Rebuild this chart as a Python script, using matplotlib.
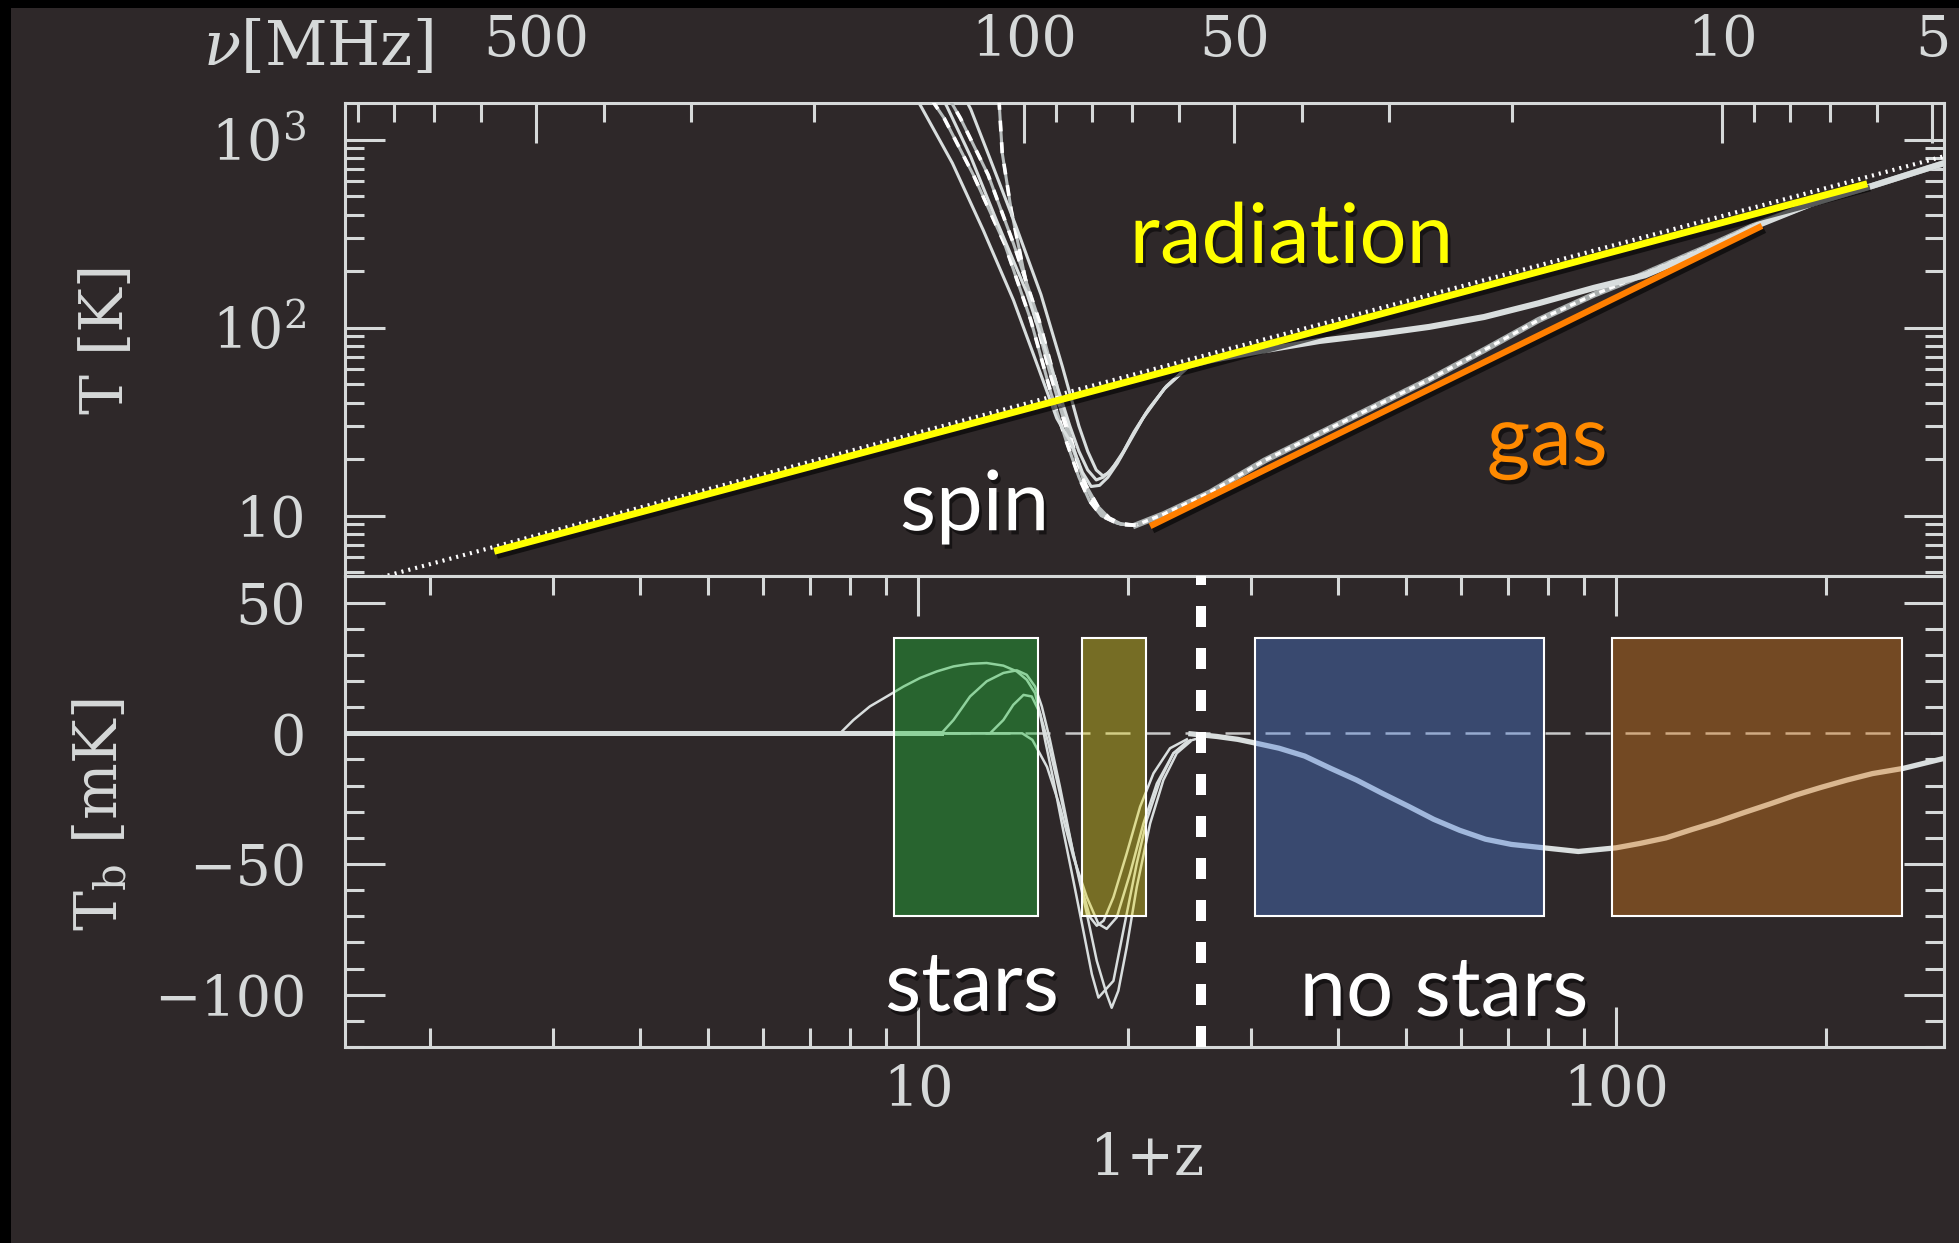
import numpy as np
import matplotlib
matplotlib.use('Agg')
from matplotlib import pyplot as plt
from matplotlib import rc
from matplotlib.patches import Rectangle
from matplotlib.ticker import FixedLocator, FixedFormatter, NullFormatter, NullLocator
import matplotlib.patheffects as pe

rc('font', family='DejaVu Serif')
rc('mathtext', fontset='dejavuserif')

BG = '#2e2829'
FG = '#d6d9d9'
LINE = '#d9dede'

# ---- top panel: temperatures (1+z, T[K]) ----
cmb_z = [1.7, 300]
cmb_T = [4.7, 830]
rad_z = [2.47, 229]          # yellow hand-drawn line
rad_T = [6.47, 583]
gasline_z = [21.5, 161.8]    # orange hand-drawn line
gasline_T = [8.8, 348]

gas_z = [295, 230, 190, 160, 133, 105, 93, 77.5, 64.7, 54, 45, 37.6, 31.4, 26.2, 22.5, 20.5]
gas_T = [750, 560, 455, 358, 262, 180, 150, 110, 76, 53, 38, 27.4, 19.7, 13.3, 10.2, 8.9]

spin_z = [295, 230, 190, 160, 133, 110, 93, 77.5, 64.7, 54, 45, 37.6, 31.4, 26.2, 24.5]
spin_T = [750, 560, 455, 352, 256, 190, 163, 135, 114, 101, 92, 85, 76, 67, 63]

s1_z = [24.5, 22.5, 21.0, 20.0, 19.3, 18.7, 18.2, 17.7, 17.2, 16.6, 15.8, 14.9, 13.7, 12.4, 11.2, 10.1, 9.5]
s1_T = [63, 47, 33, 24, 19, 16, 14.5, 14.3, 17, 24, 33, 60, 140, 330, 750, 1500, 2200]
s2_z = [24.5, 22.6, 21.2, 20.2, 19.5, 18.9, 18.4, 18.0, 17.5, 17.0, 16.5, 15.5, 14.3, 13.0, 11.9, 11.0, 10.4]
s2_T = [63, 48, 35, 26, 20.5, 17.5, 16, 15.5, 17.5, 22, 30, 62, 155, 360, 810, 1500, 2200]
s3_z = [24.5, 22.7, 21.4, 20.4, 19.7, 19.1, 18.7, 18.4, 18.0, 17.5, 17.0, 16.1, 15.0, 13.8, 12.7, 11.9, 11.3]
s3_T = [63, 49, 37, 28, 22, 18.5, 16.8, 16.3, 17.5, 22, 30, 62, 150, 350, 780, 1450, 2100]

g1_z = [20.5, 19.3, 18.3, 17.6, 17.0, 16.3, 15.5, 14.5, 13.3, 12.0, 10.9, 9.9]
g1_T = [8.9, 9.1, 10, 12, 16, 25, 45, 110, 280, 650, 1300, 2200]
g2_z = [20.5, 19.5, 18.6, 17.9, 17.3, 16.7, 15.9, 14.9, 13.7, 12.6, 11.5, 10.6]
g2_T = [8.9, 9.0, 9.8, 11.5, 15, 23, 45, 110, 280, 650, 1300, 2200]
g3_z = [20.5, 19.6, 18.8, 18.1, 17.4, 16.5, 15.4, 14.3, 13.6, 13.2, 13.05]
g3_T = [8.9, 9.0, 9.7, 11.2, 14.5, 25, 60, 170, 420, 850, 1700]

# ---- bottom panel: brightness temperature (1+z, mK) ----
flat_z = [1.51, 10.8]
flat_T = [0, 0]
tail_z = [24.6, 26.8, 28.7, 30.4, 32.9, 35.8, 39.0, 42.5, 46.2, 50.4, 54.8, 59.7, 65.0, 70.8,
          78.8, 88.3, 100, 108.3, 117.9, 128.4, 139.8, 152.2, 165.8, 180.5, 196.5, 214, 233, 258, 296]
tail_T = [-0.2, -1.2, -2.3, -3.7, -5.7, -8.7, -13.4, -17.9, -22.9, -27.9, -32.9, -37.1, -40.5, -42.5,
          -43.8, -45.2, -43.8, -42.1, -40.0, -36.8, -33.8, -30.4, -27.1, -23.7, -20.7, -17.9, -15.4, -13.4, -9.5]
ma_z = [1.51, 7.73, 8.08, 8.53, 9.02, 9.53, 10.07, 10.64, 11.24, 11.87, 12.54, 13.25, 13.85, 14.31,
        14.71, 14.95, 15.2, 15.63, 16.14, 16.69, 17.25, 17.74, 18.13, 19.05, 19.47, 19.9, 20.57,
        21.26, 22.22, 23.22, 24.27, 25.63]
ma_T = [0, 0, 5.1, 10.3, 14.1, 17.9, 21.2, 23.7, 25.6, 26.6, 26.9, 25.9, 23.7, 20.5,
        15.4, 7.7, -2.5, -17.9, -37.1, -56.3, -75.5, -92.1, -101.1, -94.7, -81.9, -69.1, -49.9,
        -33.3, -17.9, -7.6, -3.2, -1.3]
mb_z = [1.51, 10.8, 11.24, 11.87, 12.54, 13.25, 13.85, 14.31, 14.71, 15.04, 15.45, 15.97, 16.69,
        17.45, 18.03, 18.63, 18.94, 19.36, 19.9, 20.57, 21.5, 22.46, 23.48, 24.54]
mb_T = [0, 0, 5.1, 14.1, 19.9, 23.1, 24.1, 22.4, 17.9, 10.3, -2.5, -20.5, -46,
        -69, -87, -99.8, -105, -98.5, -81.9, -58.9, -34.5, -17.9, -7.6, -3.2]
mc_z = [1.51, 12.68, 13.25, 13.69, 14.16, 14.55, 14.95, 15.37, 15.97, 16.69, 17.25, 17.64, 18.03,
        18.44, 19.05, 19.9, 20.8, 21.74, 22.96, 24.27]
mc_T = [0, 0, 5.1, 10.9, 14.7, 14.1, 7.7, -3.8, -23, -46, -61.4, -70.4, -73.6,
        -71.7, -62.7, -46, -28.1, -15.3, -5.7, -2.3]
md_z = [1.51, 14.1, 14.58, 15.3, 15.97, 16.69, 17.45, 18.13, 18.63, 19.26, 20.12, 21.03, 21.98,
        23.22, 24.54]
md_T = [0, 0, -2.5, -12.8, -28.1, -47.3, -62.7, -72.9, -74.8, -70.4, -53.7, -34.5, -19.2,
        -7.6, -2.7]

# highlighted redshift ranges (1+z) and their colours
box_lo = [9.24, 17.16, 30.4, 98.8]
box_hi = [14.87, 21.21, 78.8, 257.2]
box_col = ['#20c03a', '#e4d721', '#4c7dda', '#dd7d1c']
box_bottom, box_top = -70, 36.5
z_split = 25.4

nu_major = [500, 100, 50, 10, 5]
nu_minor = [900, 800, 700, 600, 400, 300, 200, 90, 80, 70, 60, 40, 30, 20, 9, 8, 7, 6]

W, H = 1959, 1243
fig = plt.figure(figsize=(W / 100, H / 100), dpi=100, facecolor=BG)
L, R = 345 / W, 1944 / W
ax1 = fig.add_axes([L, 1 - 576.5 / H, R - L, (576.5 - 102.6) / H])
ax2 = fig.add_axes([L, 1 - 1047 / H, R - L, (1047 - 576.5) / H])

# top frequency axis (nu = 1420 MHz / (1+z))
axt = ax1.twiny()

for a in (ax1, ax2):
    a.set_facecolor(BG)
    a.set_xscale('log')
    a.set_xlim(1.51, 295)
    for s in a.spines.values():
        s.set_color(FG)
        s.set_linewidth(2.2)
    a.tick_params(which='both', direction='in', colors=FG, width=2.2,
                  labelsize=40, right=True, top=True)
    a.tick_params(which='major', length=29)
    a.tick_params(which='minor', length=14)
    a.tick_params(axis='y', pad=28)

# top panel
ax1.set_yscale('log')
ax1.set_ylim(4.75, 1575)
ax1.yaxis.set_major_locator(FixedLocator([10, 100, 1000]))
ax1.yaxis.set_major_formatter(FixedFormatter(['10', '$10^2$', '$10^3$']))
ax1.xaxis.set_major_locator(NullLocator())
ax1.xaxis.set_minor_locator(NullLocator())
ax1.tick_params(axis='x', which='both', bottom=False, top=False,
                labelbottom=False, labeltop=False)

axt.set_xscale('log')
axt.set_xlim(ax1.get_xlim())
axt.xaxis.set_major_locator(FixedLocator([1420. / n for n in nu_major]))
axt.xaxis.set_major_formatter(FixedFormatter([str(n) for n in nu_major]))
axt.xaxis.set_minor_locator(FixedLocator([1420. / n for n in nu_minor]))
axt.xaxis.set_minor_formatter(NullFormatter())
axt.tick_params(which='both', direction='in', colors=FG, width=2.2,
                labelsize=40, pad=25, bottom=False, labelbottom=False)
axt.tick_params(which='major', length=29)
axt.tick_params(which='minor', length=14)
for s in axt.spines.values():
    s.set_visible(False)

ax1.plot(cmb_z, cmb_T, color='white', lw=3.0, ls=(0, (0.5, 1.2)), zorder=2)
ax1.plot(gas_z, gas_T, color='#a9aeae', lw=4.4, zorder=3)
ax1.plot(gas_z, gas_T, color='white', lw=2.4, ls=(0, (1.8, 1.4)), zorder=3)
for gz, gT in ((g1_z, g1_T), (g2_z, g2_T), (g3_z, g3_T)):
    ax1.plot(gz, gT, color='#b9bebe', lw=2.2, zorder=3)
    ax1.plot(gz, gT, color='white', lw=2.6, ls=(0, (3, 3)), zorder=3)
ax1.plot(spin_z, spin_T, color=LINE, lw=4.4, zorder=4)
for sz, sT in ((s1_z, s1_T), (s2_z, s2_T), (s3_z, s3_T)):
    ax1.plot(sz, sT, color=LINE, lw=2.2, zorder=4)

shadow = [pe.SimpleLineShadow(offset=(2, -3), shadow_color='black', alpha=0.6),
          pe.Normal()]
ax1.plot(rad_z, rad_T, color='#ffff00', lw=5, solid_capstyle='butt',
         path_effects=shadow, zorder=6)
ax1.plot(gasline_z, gasline_T, color='#ff7f00', lw=4.5, solid_capstyle='butt',
         path_effects=shadow, zorder=6)

tshadow = [pe.withSimplePatchShadow(offset=(2, -3), shadow_rgbFace='black', alpha=0.5)]
ax1.text(20.1, 221, 'radiation', color='#ffff00', family='Lato', size=60,
         ha='left', va='baseline', path_effects=tshadow, zorder=7)
ax1.text(65.3, 18.6, 'gas', color='#ff8a00', family='Lato', size=60,
         ha='left', va='baseline', path_effects=tshadow, zorder=7)
ax1.text(9.42, 8.37, 'spin', color='white', family='Lato', size=60,
         ha='left', va='baseline', path_effects=tshadow, zorder=7)

# bottom panel
ax2.set_ylim(-120, 60)
ax2.yaxis.set_major_locator(FixedLocator([-100, -50, 0, 50]))
ax2.yaxis.set_major_formatter(FixedFormatter(['\u2212100', '\u221250', '0', '50']))
ax2.yaxis.set_minor_locator(FixedLocator(np.arange(-120, 61, 10)))
ax2.xaxis.set_major_locator(FixedLocator([10, 100]))
ax2.xaxis.set_major_formatter(FixedFormatter(['10', '100']))
ax2.xaxis.set_minor_locator(FixedLocator([2, 3, 4, 5, 6, 7, 8, 9, 20, 30, 40, 50, 60, 70, 80, 90, 200]))
ax2.xaxis.set_minor_formatter(NullFormatter())
ax2.tick_params(axis='x', pad=12)

ax2.plot([1.51, 295], [0, 0], color='#c8c8c8', lw=1.8, ls=(0, (10, 6)), zorder=2)
ax2.plot(flat_z, flat_T, color=LINE, lw=3.6, zorder=3)
for mz, mT in ((ma_z, ma_T), (mb_z, mb_T), (mc_z, mc_T), (md_z, md_T)):
    ax2.plot(mz, mT, color=LINE, lw=1.8, zorder=3)
ax2.plot(tail_z, tail_T, color=LINE, lw=3.8, zorder=3)
ax2.axvline(z_split, color='white', lw=7.2, ls=(0, (2.1, 2.1)), zorder=4)

for lo, hi, c in zip(box_lo, box_hi, box_col):
    ax2.add_patch(Rectangle((lo, box_bottom), hi - lo, box_top - box_bottom,
                            facecolor=c, alpha=0.4, edgecolor='none', zorder=5))
    ax2.add_patch(Rectangle((lo, box_bottom), hi - lo, box_top - box_bottom,
                            facecolor='none', edgecolor='white', lw=1.5, zorder=5))

ax2.text(8.97, -106.2, 'stars', color='white', family='Lato', size=60,
         ha='left', va='baseline', path_effects=tshadow, zorder=7)
ax2.text(35.2, -108.1, 'no stars', color='white', family='Lato', size=60,
         ha='left', va='baseline', path_effects=tshadow, zorder=7)

# axis labels
fig.text(318 / W, 1 - 48 / H, r'$\nu$[MHz]', color=FG, size=44, ha='center', va='center')
fig.text(106 / W, 1 - 339 / H, 'T [K]', color=FG, size=43, rotation=90,
         ha='center', va='center')
fig.text(100 / W, 1 - 815 / H, r'T$_{\rm b}$ [mK]', color=FG, size=43, rotation=90,
         ha='center', va='center')
fig.text(1147 / W, 1 - 1159 / H, '1+z', color=FG, size=41, ha='center', va='center')

# black frame edges of the slide
fig.patches.append(Rectangle((0, 0), 11 / W, 1, transform=fig.transFigure,
                             facecolor='black', edgecolor='none'))
fig.patches.append(Rectangle((0, 1 - 8 / H), 1, 8 / H, transform=fig.transFigure,
                             facecolor='black', edgecolor='none'))

fig.savefig('out.png', dpi=100, facecolor=BG)
